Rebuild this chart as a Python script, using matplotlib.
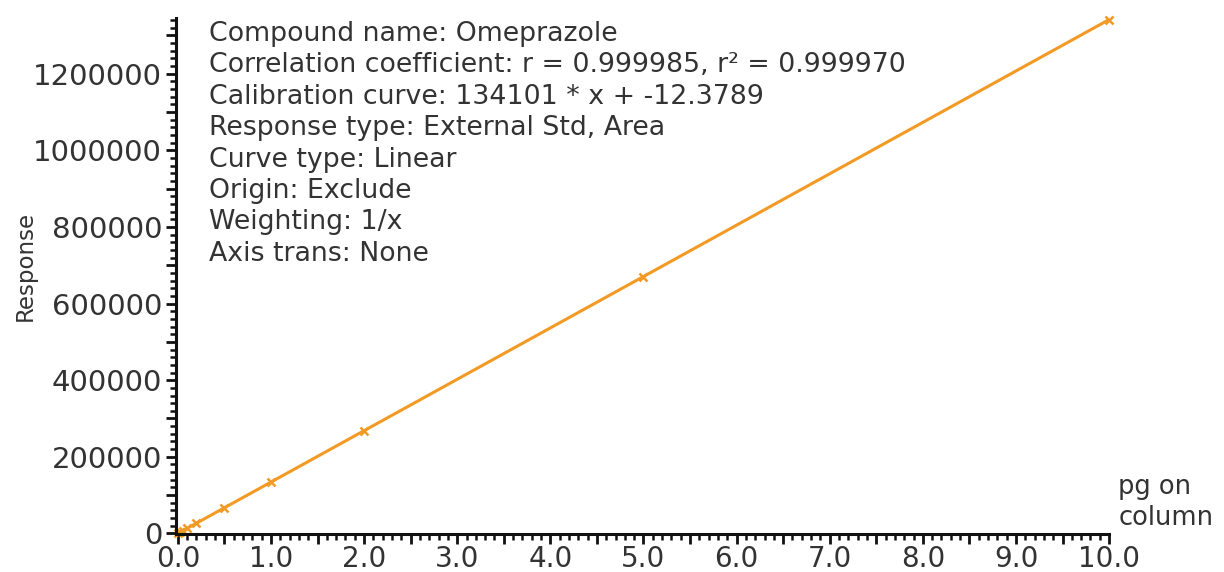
import numpy as np
import matplotlib.pyplot as plt
from matplotlib.ticker import MultipleLocator, FuncFormatter

# ===== Calibration data =====
conc = [0.0, 0.02, 0.05, 0.1, 0.2, 0.5, 1.0, 2.0, 5.0, 10.0]          # pg on column
resp = [0, 2700, 6690, 13400, 26850, 67000, 134300, 268000, 668500, 1340600]

slope = 134101
intercept = -12.3789

info_lines = [
    'Compound name: Omeprazole',
    'Correlation coefficient: r = 0.999985, r\u00b2 = 0.999970',
    'Calibration curve: 134101 * x + -12.3789',
    'Response type: External Std, Area',
    'Curve type: Linear',
    'Origin: Exclude',
    'Weighting: 1/x',
    'Axis trans: None',
]

orange = '#F39A24'
txt_col = '#333333'

fig = plt.figure(figsize=(12.24, 5.72), dpi=100)
ax = fig.add_axes([0.1438, 0.0664, 0.7623, 0.902])

# fit line + calibration points
xf = np.array([0.0, 10.0])
ax.plot(xf, slope * xf + intercept, color=orange, lw=2.2)
ax.plot(conc, resp, 'x', color=orange, ms=6, mew=1.8, clip_on=False)

ax.set_xlim(-0.02, 10.0)
ax.set_ylim(-1500, 1345000)

for s in ['top', 'right']:
    ax.spines[s].set_visible(False)
for s in ['left', 'bottom']:
    ax.spines[s].set_linewidth(2.2)
    ax.spines[s].set_color('#111111')

# ticks: majors every 0.5 / 100000, labels only on every other one
ax.xaxis.set_major_locator(MultipleLocator(0.5))
ax.xaxis.set_minor_locator(MultipleLocator(0.1))
ax.yaxis.set_major_locator(MultipleLocator(100000))
ax.yaxis.set_minor_locator(MultipleLocator(20000))
ax.xaxis.set_major_formatter(FuncFormatter(
    lambda v, p: f'{v:.1f}' if abs(v - round(v)) < 1e-6 else ''))
ax.yaxis.set_major_formatter(FuncFormatter(
    lambda v, p: f'{int(round(v))}' if int(round(v)) % 200000 == 0 else ''))

ax.tick_params(which='major', length=7, width=2, color='#111111',
               labelcolor=txt_col)
ax.tick_params(which='minor', length=4, width=1.8, color='#111111')
ax.tick_params(axis='y', which='major', labelsize=21, pad=3)
ax.tick_params(axis='x', which='major', labelsize=20, pad=1)

ax.set_ylabel('Response', fontsize=16.5, color=txt_col)
ax.yaxis.set_label_coords(-0.149, 0.52)

# info block
for i, line in enumerate(info_lines):
    ax.text(0.035, 0.995 - i * 0.061, line, transform=ax.transAxes,
            fontsize=19.3, color=txt_col, va='top', ha='left')

# x axis title at the right end
ax.text(1.01, 0.005, 'pg on\ncolumn', transform=ax.transAxes,
        fontsize=18.5, color=txt_col, va='bottom', ha='left', linespacing=1.25)

fig.savefig('out.png', dpi=100)
